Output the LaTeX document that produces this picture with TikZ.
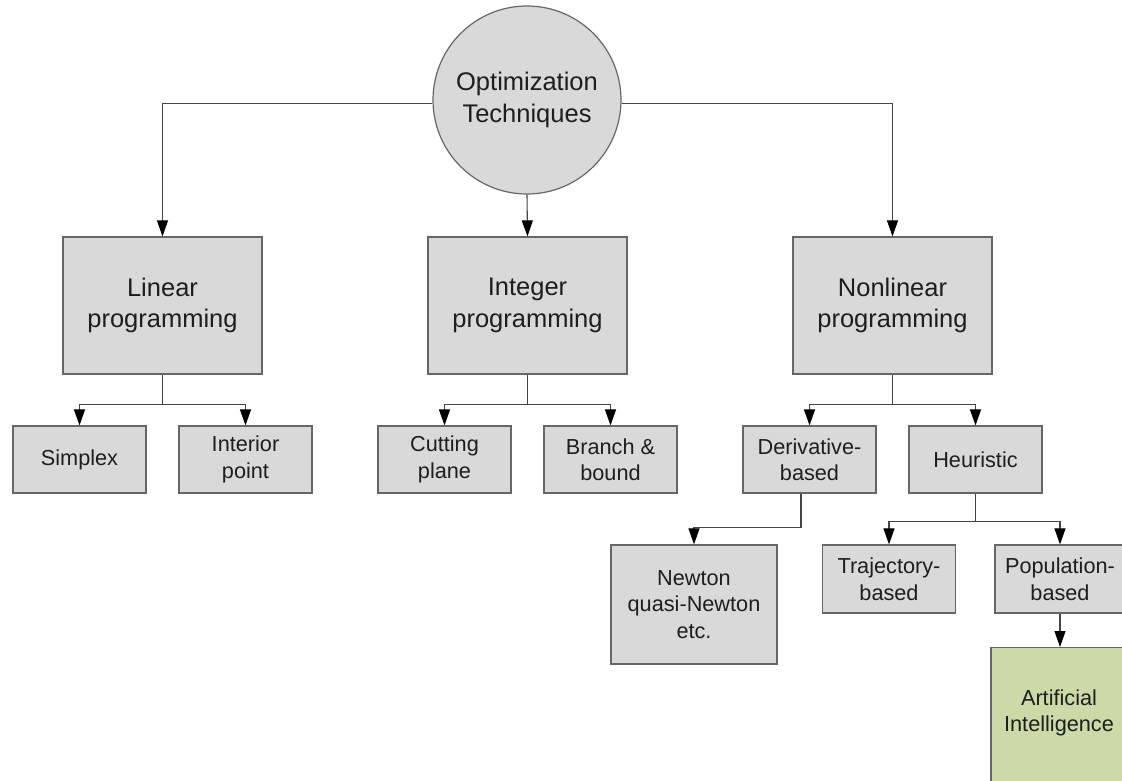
\documentclass[tikz,border=0pt]{standalone}
\usepackage{fontspec}
\setmainfont{Liberation Sans}
\usetikzlibrary{arrows.meta}
\definecolor{boxgray}{HTML}{D9D9D9}
\definecolor{edgegray}{HTML}{666666}
\definecolor{linegray}{HTML}{444444}
\definecolor{aigreen}{RGB}{204,218,168}
\definecolor{txt}{HTML}{1E1E1E}
\begin{document}
\begin{tikzpicture}[x=1pt,y=1pt,
  base/.style={draw=edgegray, line width=1.2pt, fill=boxgray, align=center, text=txt, inner sep=0pt},
  bigbox/.style={base, rectangle, minimum width=199pt, minimum height=137pt, font=\fontsize{25.5}{31.5}\selectfont},
  smallbox/.style={base, rectangle, minimum width=133pt, minimum height=67pt, font=\fontsize{21.7}{26.5}\selectfont},
  conn/.style={draw=linegray, line width=1.1pt, -{Triangle[width=11pt,length=16pt,color=black]}},
]
\useasboundingbox (0,0) rectangle (1122,-781);
\clip (0,0) rectangle (1122,-781);

% root
\node[base, circle, minimum size=188pt, font=\fontsize{25.5}{31.5}\selectfont] (opt) at (527,-100) {Optimization\\Techniques};

% level 1
\node[bigbox] (lin)    at (162.5,-305.5) {Linear\\programming};
\node[bigbox] (int)    at (527.5,-305.5) {Integer\\programming};
\node[bigbox] (nonlin) at (892.5,-305.5) {Nonlinear\\programming};

% level 2
\node[smallbox] (simplex)  at (79.5,-459.5)  {Simplex};
\node[smallbox] (interior) at (245.5,-459.5) {Interior\\point};
\node[smallbox] (cutting)  at (444.5,-459.5) {Cutting\\plane};
\node[smallbox] (branch)   at (610.5,-459.5) {Branch \&\\bound};
\node[smallbox] (deriv)    at (809.5,-459.5) {Derivative-\\based};
\node[smallbox] (heur)     at (975.5,-459.5) {Heuristic};

% level 3
\node[smallbox, minimum width=166pt, minimum height=119pt] (newton) at (694,-604.5) {Newton\\quasi-Newton\\etc.};
\node[smallbox, minimum height=68pt] (traj) at (889,-579) {Trajectory-\\based};
\node[smallbox, minimum width=130pt, minimum height=68pt] (pop) at (1060,-579) {Population-\\based};

% level 4
\node[base, rectangle, fill=aigreen, minimum width=138pt, minimum height=170pt, anchor=north] (ai) at (1060,-647) {};
\node[align=center, text=txt, font=\fontsize{21.7}{26.5}\selectfont, inner sep=0pt] (ailabel) at (1059,-713) {Artificial\\Intelligence};

% connectors
\draw[conn] (opt.182) -| (lin.north);
\draw[conn] (opt.-2) -| (nonlin.north);
\draw[conn] (opt.south) -- (int.north);

\draw[conn] (lin.south) -- ++(0,-30) -| (simplex.north);
\draw[conn] (lin.south) -- ++(0,-30) -| (interior.north);
\draw[conn] (int.south) -- ++(0,-30) -| (cutting.north);
\draw[conn] (int.south) -- ++(0,-30) -| (branch.north);
\draw[conn] (nonlin.south) -- ++(0,-30) -| (deriv.north);
\draw[conn] (nonlin.south) -- ++(0,-30) -| (heur.north);

\draw[conn] ([xshift=-8.5pt]deriv.south) -- ++(0,-34) -| (newton.north);
\draw[conn] (heur.south) -- ++(0,-28) -| (traj.north);
\draw[conn] (heur.south) -- ++(0,-28) -| (pop.north);
\draw[conn] (pop.south) -- (ai.north);
\end{tikzpicture}
\end{document}
